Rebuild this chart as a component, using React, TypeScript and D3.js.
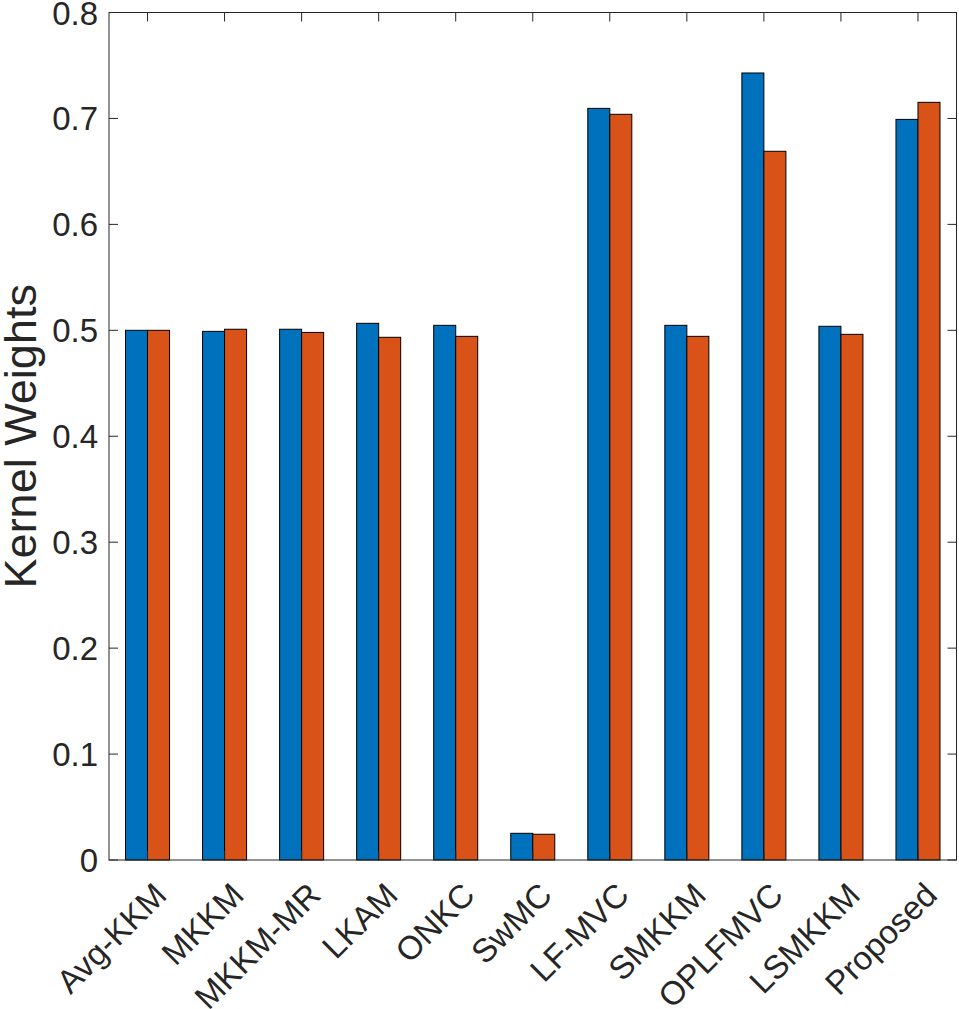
import * as d3 from "d3";

const methods = [
  "Avg-KKM", "MKKM", "MKKM-MR", "LKAM", "ONKC", "SwMC",
  "LF-MVC", "SMKKM", "OPLFMVC", "LSMKKM", "Proposed"
];
const kernel1 = [0.5, 0.499, 0.501, 0.5066, 0.5047, 0.0252, 0.7095, 0.5047, 0.7429, 0.5038, 0.6991];
const kernel2 = [0.5, 0.501, 0.498, 0.4934, 0.4943, 0.0243, 0.7039, 0.4943, 0.669, 0.4962, 0.7152];
const yTicks = [0, 0.1, 0.2, 0.3, 0.4, 0.5, 0.6, 0.7, 0.8];
const colors = ["#0072BD", "#D95319"];

export default function App() {
  const width = 959;
  const height = 1009;
  const margin = { top: 12.5, right: 2.5, bottom: 149, left: 109 };
  const x0 = margin.left;
  const x1 = width - margin.right;
  const y0 = height - margin.bottom;
  const y1 = margin.top;
  const axisColor = "#262626";
  const font = "'Liberation Sans', Arial, Helvetica, sans-serif";

  const x = d3.scaleLinear([0.5, methods.length + 0.5], [x0, x1]);
  const y = d3.scaleLinear([0, 0.8], [y0, y1]);
  const step = x(2) - x(1);
  const barW = step * 0.2857;
  const series = [kernel1, kernel2];
  const tickLen = 9;

  return (
    <svg width={width} height={height} style={{ position: "absolute", left: 0, top: 0, background: "#fff" }}>
      {methods.map((m, i) =>
        series.map((vals, s) => (
          <rect
            key={`${m}-${s}`}
            x={x(i + 1) + (s - 1) * barW}
            y={y(vals[i])}
            width={barW}
            height={y0 - y(vals[i])}
            fill={colors[s]}
            stroke="#000"
            strokeWidth={1}
          />
        ))
      )}
      <rect x={x0} y={y1} width={x1 - x0} height={y0 - y1} fill="none" stroke={axisColor} strokeWidth={1} />
      {methods.map((m, i) => (
        <g key={m}>
          <line x1={x(i + 1)} x2={x(i + 1)} y1={y0} y2={y0 - tickLen} stroke={axisColor} />
          <line x1={x(i + 1)} x2={x(i + 1)} y1={y1} y2={y1 + tickLen} stroke={axisColor} />
          <text
            x={x(i + 1) + 21}
            y={y0 + 37}
            transform={`rotate(-45 ${x(i + 1) + 21} ${y0 + 37})`}
            textAnchor="end"
            fontFamily={font}
            fontSize={33}
            fill={axisColor}
          >
            {m}
          </text>
        </g>
      ))}
      {yTicks.map(t => (
        <g key={t}>
          <line x1={x0} x2={x0 + tickLen} y1={y(t)} y2={y(t)} stroke={axisColor} />
          <line x1={x1} x2={x1 - tickLen} y1={y(t)} y2={y(t)} stroke={axisColor} />
          <text
            x={x0 - 11}
            y={y(t) + 12}
            textAnchor="end"
            fontFamily={font}
            fontSize={33}
            fill={axisColor}
          >
            {t === 0 ? "0" : t.toFixed(1)}
          </text>
        </g>
      ))}
      <text
        x={36}
        y={(y0 + y1) / 2}
        transform={`rotate(-90 36 ${(y0 + y1) / 2})`}
        textAnchor="middle"
        fontFamily={font}
        fontSize={45}
        fill={axisColor}
      >
        Kernel Weights
      </text>
    </svg>
  );
}
